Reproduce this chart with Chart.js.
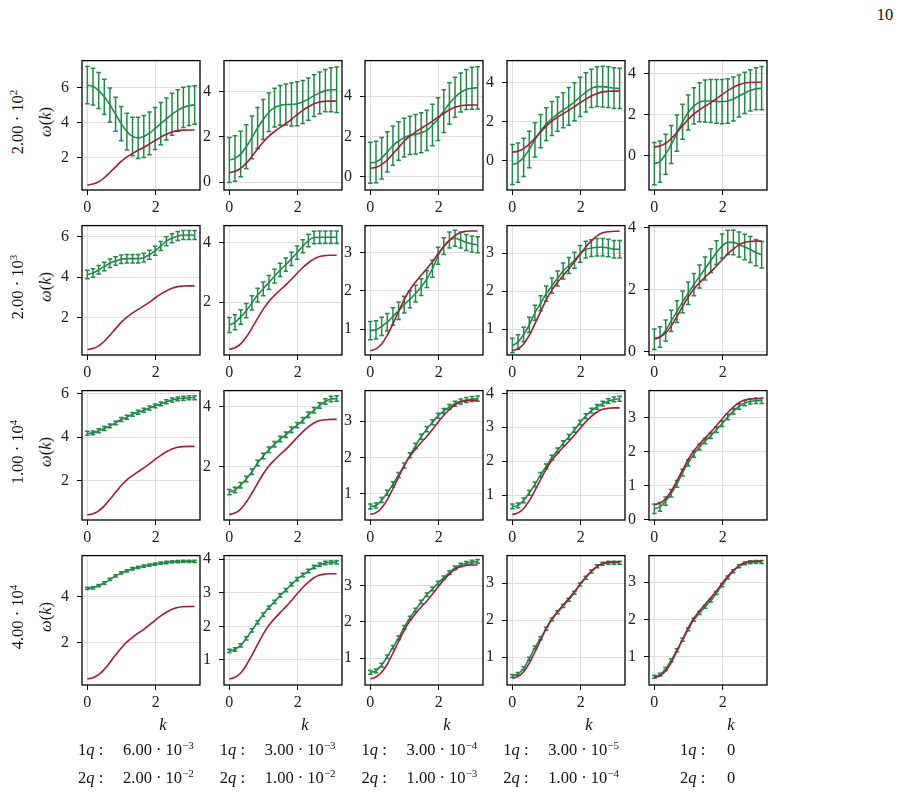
<!DOCTYPE html>
<html>
<head>
<meta charset="utf-8">
<script src="https://cdn.jsdelivr.net/npm/chart.js@4.4.1/dist/chart.umd.min.js"></script>
<style>
  body { margin: 0; background: #fff; }
  #fig { position: relative; width: 901px; height: 796px; overflow: hidden; font-family: "Liberation Serif", serif; color: #111; }
  canvas { position: absolute; }
  .t { position: absolute; white-space: nowrap; font-size: 16.5px; line-height: 1; }
  .rot { transform: translate(-50%, -50%) rotate(-90deg); }
  .ctr { transform: translate(-50%, -50%); }
  .lft { transform: translateY(-50%); }
  sup { font-size: 11px; vertical-align: 6px; line-height: 0; }
</style>
</head>
<body>
<div id="fig"></div>
<script>
// momentum grid and exact dispersion (red)
const kGrid = [0, 0.165, 0.331, 0.496, 0.661, 0.827, 0.992, 1.158, 1.323, 1.488, 1.653, 1.819, 1.984, 2.150, 2.315, 2.480, 2.646, 2.811, 2.976, 3.142];
const omegaTrue = [0.43, 0.48, 0.61, 0.84, 1.14, 1.46, 1.77, 2.03, 2.23, 2.41, 2.58, 2.77, 2.97, 3.16, 3.32, 3.45, 3.53, 3.56, 3.57, 3.57];

// row 1 : 2.00e2
const mu_r1_c1 = [6.13, 6.05, 5.82, 5.46, 5.0, 4.47, 3.93, 3.48, 3.2, 3.12, 3.2, 3.38, 3.65, 3.93, 4.2, 4.47, 4.68, 4.86, 4.95, 5.0];
const sd_r1_c1 = [1.07, 1.05, 1.03, 1.0, 0.97, 0.97, 0.98, 1.05, 1.1, 1.18, 1.2, 1.22, 1.2, 1.2, 1.2, 1.2, 1.18, 1.15, 1.12, 1.1];
const mu_r1_c2 = [0.98, 1.05, 1.24, 1.56, 1.97, 2.39, 2.76, 3.08, 3.28, 3.38, 3.42, 3.42, 3.45, 3.53, 3.66, 3.81, 3.93, 4.03, 4.07, 4.07];
const sd_r1_c2 = [0.99, 1.0, 1.0, 0.97, 0.94, 0.9, 0.88, 0.85, 0.85, 0.87, 0.9, 0.95, 0.97, 0.95, 0.93, 0.92, 0.92, 0.93, 0.97, 1.0];
const mu_r1_c3 = [0.7, 0.74, 0.93, 1.24, 1.55, 1.78, 1.95, 2.06, 2.11, 2.19, 2.31, 2.57, 2.87, 3.26, 3.64, 3.95, 4.19, 4.34, 4.4, 4.42];
const sd_r1_c3 = [1.02, 1.03, 1.03, 1.0, 0.97, 0.96, 0.96, 0.95, 0.98, 0.99, 1.0, 1.03, 1.06, 1.06, 1.03, 0.99, 0.97, 0.99, 1.04, 1.05];
const mu_r1_c4 = [-0.21, -0.11, 0.16, 0.57, 1.06, 1.51, 1.87, 2.16, 2.39, 2.59, 2.78, 3.02, 3.27, 3.51, 3.71, 3.8, 3.8, 3.77, 3.72, 3.71];
const sd_r1_c4 = [1.03, 1.01, 0.98, 0.94, 0.88, 0.86, 0.84, 0.87, 0.88, 0.9, 0.97, 0.98, 1.01, 1.01, 0.99, 1.02, 1.05, 1.05, 1.05, 1.03];
const mu_r1_c5 = [-0.38, -0.28, 0.08, 0.55, 1.1, 1.65, 2.1, 2.42, 2.6, 2.66, 2.66, 2.64, 2.63, 2.66, 2.76, 2.9, 3.05, 3.17, 3.25, 3.28];
const sd_r1_c5 = [1.03, 1.0, 0.97, 0.92, 0.88, 0.85, 0.85, 0.88, 0.95, 1.02, 1.04, 1.06, 1.07, 1.08, 1.07, 1.02, 1.0, 1.0, 1.02, 1.05];

// row 2 : 2.00e3
const mu_r2_c1 = [4.13, 4.2, 4.36, 4.52, 4.68, 4.79, 4.88, 4.91, 4.91, 4.91, 4.96, 5.1, 5.3, 5.53, 5.77, 5.92, 6.03, 6.08, 6.08, 6.08];
const sd_r2_c1 = [0.21, 0.21, 0.21, 0.21, 0.21, 0.21, 0.21, 0.21, 0.21, 0.21, 0.22, 0.22, 0.22, 0.22, 0.22, 0.22, 0.22, 0.22, 0.22, 0.22];
const mu_r2_c2 = [1.24, 1.33, 1.51, 1.72, 1.98, 2.24, 2.45, 2.66, 2.87, 3.08, 3.26, 3.45, 3.66, 3.87, 4.06, 4.16, 4.17, 4.17, 4.17, 4.17];
const sd_r2_c2 = [0.25, 0.25, 0.24, 0.24, 0.24, 0.23, 0.23, 0.23, 0.23, 0.22, 0.22, 0.22, 0.22, 0.22, 0.21, 0.21, 0.21, 0.21, 0.21, 0.21];
const mu_r2_c3 = [0.96, 0.98, 1.07, 1.18, 1.33, 1.48, 1.64, 1.78, 1.93, 2.1, 2.31, 2.58, 2.92, 3.17, 3.33, 3.38, 3.33, 3.27, 3.23, 3.21];
const sd_r2_c3 = [0.24, 0.24, 0.24, 0.23, 0.23, 0.23, 0.22, 0.22, 0.22, 0.22, 0.22, 0.22, 0.22, 0.22, 0.21, 0.21, 0.21, 0.21, 0.21, 0.21];
const mu_r2_c4 = [0.57, 0.66, 0.86, 1.11, 1.43, 1.68, 1.93, 2.14, 2.33, 2.53, 2.67, 2.81, 2.98, 3.09, 3.13, 3.15, 3.15, 3.13, 3.1, 3.1];
const sd_r2_c4 = [0.19, 0.19, 0.19, 0.2, 0.2, 0.2, 0.2, 0.2, 0.2, 0.21, 0.21, 0.21, 0.22, 0.22, 0.22, 0.23, 0.23, 0.23, 0.23, 0.23];
const mu_r2_c5 = [0.41, 0.48, 0.69, 1.0, 1.3, 1.61, 1.89, 2.17, 2.43, 2.69, 2.94, 3.2, 3.41, 3.53, 3.53, 3.46, 3.38, 3.3, 3.2, 3.13];
const sd_r2_c5 = [0.33, 0.33, 0.34, 0.34, 0.35, 0.35, 0.36, 0.36, 0.37, 0.37, 0.38, 0.38, 0.39, 0.39, 0.4, 0.4, 0.41, 0.42, 0.42, 0.43];

// row 3 : 1.00e4
const mu_r3_c1 = [4.17, 4.19, 4.29, 4.39, 4.51, 4.65, 4.8, 4.91, 5.04, 5.14, 5.23, 5.33, 5.43, 5.52, 5.62, 5.7, 5.75, 5.78, 5.8, 5.8];
const sd_r3_c1 = [0.09, 0.09, 0.09, 0.09, 0.09, 0.09, 0.09, 0.09, 0.09, 0.09, 0.09, 0.09, 0.09, 0.09, 0.09, 0.09, 0.09, 0.09, 0.09, 0.09];
const mu_r3_c2 = [1.17, 1.24, 1.4, 1.6, 1.84, 2.13, 2.36, 2.57, 2.75, 2.92, 3.06, 3.23, 3.38, 3.54, 3.72, 3.87, 4.03, 4.16, 4.24, 4.26];
const sd_r3_c2 = [0.09, 0.09, 0.09, 0.09, 0.09, 0.09, 0.09, 0.09, 0.09, 0.09, 0.09, 0.09, 0.09, 0.09, 0.09, 0.09, 0.09, 0.09, 0.09, 0.09];
const mu_r3_c3 = [0.65, 0.68, 0.83, 1.03, 1.26, 1.52, 1.78, 2.06, 2.32, 2.57, 2.78, 2.97, 3.15, 3.28, 3.39, 3.48, 3.54, 3.58, 3.61, 3.62];
const sd_r3_c3 = [0.07, 0.07, 0.07, 0.07, 0.07, 0.07, 0.07, 0.07, 0.07, 0.07, 0.07, 0.07, 0.07, 0.07, 0.07, 0.07, 0.07, 0.07, 0.07, 0.07];
const mu_r3_c4 = [0.67, 0.7, 0.85, 1.07, 1.32, 1.6, 1.85, 2.11, 2.32, 2.53, 2.72, 2.92, 3.14, 3.33, 3.49, 3.6, 3.7, 3.77, 3.82, 3.84];
const sd_r3_c4 = [0.07, 0.07, 0.07, 0.07, 0.07, 0.07, 0.07, 0.07, 0.07, 0.07, 0.07, 0.07, 0.07, 0.07, 0.07, 0.07, 0.07, 0.07, 0.07, 0.07];
const mu_r3_c5 = [0.31, 0.37, 0.54, 0.77, 1.05, 1.38, 1.67, 1.93, 2.14, 2.32, 2.47, 2.65, 2.83, 3.03, 3.2, 3.34, 3.44, 3.49, 3.51, 3.51];
const sd_r3_c5 = [0.14, 0.13, 0.12, 0.11, 0.1, 0.1, 0.09, 0.09, 0.09, 0.08, 0.08, 0.08, 0.08, 0.08, 0.08, 0.08, 0.08, 0.08, 0.08, 0.08];

// row 4 : 4.00e4
const mu_r4_c1 = [4.36, 4.38, 4.48, 4.59, 4.75, 4.9, 5.03, 5.12, 5.21, 5.27, 5.32, 5.37, 5.41, 5.45, 5.48, 5.51, 5.52, 5.53, 5.53, 5.53];
const sd_r4_c1 = [0.05, 0.05, 0.05, 0.05, 0.05, 0.05, 0.05, 0.05, 0.05, 0.05, 0.05, 0.05, 0.05, 0.05, 0.05, 0.05, 0.05, 0.05, 0.05, 0.05];
const mu_r4_c2 = [1.27, 1.31, 1.43, 1.64, 1.88, 2.12, 2.35, 2.56, 2.73, 2.92, 3.08, 3.25, 3.41, 3.53, 3.65, 3.77, 3.84, 3.89, 3.91, 3.91];
const sd_r4_c2 = [0.05, 0.05, 0.05, 0.05, 0.05, 0.05, 0.05, 0.05, 0.05, 0.05, 0.05, 0.05, 0.05, 0.05, 0.05, 0.05, 0.05, 0.05, 0.05, 0.05];
const mu_r4_c3 = [0.61, 0.65, 0.81, 1.04, 1.3, 1.56, 1.85, 2.11, 2.33, 2.55, 2.75, 2.91, 3.07, 3.22, 3.36, 3.49, 3.57, 3.62, 3.65, 3.67];
const sd_r4_c3 = [0.05, 0.05, 0.05, 0.05, 0.05, 0.05, 0.05, 0.05, 0.05, 0.05, 0.05, 0.05, 0.05, 0.05, 0.05, 0.05, 0.05, 0.05, 0.05, 0.05];
const mu_r4_c4 = [0.49, 0.55, 0.7, 0.96, 1.26, 1.51, 1.77, 2.02, 2.21, 2.38, 2.55, 2.74, 2.96, 3.14, 3.31, 3.45, 3.52, 3.55, 3.55, 3.55];
const sd_r4_c4 = [0.04, 0.04, 0.04, 0.04, 0.04, 0.04, 0.04, 0.04, 0.04, 0.04, 0.04, 0.04, 0.04, 0.04, 0.04, 0.04, 0.04, 0.04, 0.04, 0.04];
const mu_r4_c5 = [0.45, 0.51, 0.66, 0.9, 1.17, 1.45, 1.73, 1.99, 2.17, 2.34, 2.51, 2.71, 2.92, 3.13, 3.3, 3.43, 3.51, 3.54, 3.55, 3.55];
const sd_r4_c5 = [0.04, 0.04, 0.04, 0.04, 0.04, 0.04, 0.04, 0.04, 0.04, 0.04, 0.04, 0.04, 0.04, 0.04, 0.04, 0.04, 0.04, 0.04, 0.04, 0.04];

// axis limits and ticks
const xRange = [-0.157, 3.299];
const xTicks = [0, 2];
const yLim_r1 = [[0.14, 7.53], [-0.34, 5.35], [-0.65, 5.77], [-1.52, 5.14], [-1.66, 4.62]];
const yLim_r2 = [[0.16, 6.54], [0.24, 4.56], [0.32, 3.71], [0.32, 3.72], [-0.1, 4.07]];
const yLim_r3 = [[0.19, 6.13], [0.25, 4.52], [0.28, 3.84], [0.27, 4.08], [-0.02, 3.81]];
const yLim_r4 = [[0.16, 5.78], [0.25, 4.11], [0.26, 3.83], [0.25, 3.74], [0.23, 3.72]];
const yTicks_r1 = [[2, 4, 6], [0, 2, 4], [0, 2, 4], [0, 2, 4], [0, 2, 4]];
const yTicks_r2 = [[2, 4, 6], [2, 4], [1, 2, 3], [1, 2, 3], [0, 2, 4]];
const yTicks_r3 = [[2, 4, 6], [2, 4], [1, 2, 3], [1, 2, 3, 4], [0, 1, 2, 3]];
const yTicks_r4 = [[2, 4], [1, 2, 3, 4], [1, 2, 3], [1, 2, 3], [1, 2, 3]];

// texts
const rowLabels = ['2.00 · 10<sup>2</sup>', '2.00 · 10<sup>3</sup>', '1.00 · 10<sup>4</sup>', '4.00 · 10<sup>4</sup>'];
const oneQ = ['6.00 · 10<sup>−3</sup>', '3.00 · 10<sup>−3</sup>', '3.00 · 10<sup>−4</sup>', '3.00 · 10<sup>−5</sup>', '0'];
const twoQ = ['2.00 · 10<sup>−2</sup>', '1.00 · 10<sup>−2</sup>', '1.00 · 10<sup>−3</sup>', '1.00 · 10<sup>−4</sup>', '0'];

const GREEN = '#23894a';
const RED = '#a21d37';

const means = [
  [mu_r1_c1, mu_r1_c2, mu_r1_c3, mu_r1_c4, mu_r1_c5],
  [mu_r2_c1, mu_r2_c2, mu_r2_c3, mu_r2_c4, mu_r2_c5],
  [mu_r3_c1, mu_r3_c2, mu_r3_c3, mu_r3_c4, mu_r3_c5],
  [mu_r4_c1, mu_r4_c2, mu_r4_c3, mu_r4_c4, mu_r4_c5]];
const errs = [
  [sd_r1_c1, sd_r1_c2, sd_r1_c3, sd_r1_c4, sd_r1_c5],
  [sd_r2_c1, sd_r2_c2, sd_r2_c3, sd_r2_c4, sd_r2_c5],
  [sd_r3_c1, sd_r3_c2, sd_r3_c3, sd_r3_c4, sd_r3_c5],
  [sd_r4_c1, sd_r4_c2, sd_r4_c3, sd_r4_c4, sd_r4_c5]];
const lims = [yLim_r1, yLim_r2, yLim_r3, yLim_r4];
const yticks = [yTicks_r1, yTicks_r2, yTicks_r3, yTicks_r4];

// layout of the grid
const colLeft = [82, 224, 365, 507, 649];
const rowTop = [53, 218, 383, 548];
const PW = 118, PH = 137;
const YW = 36, XH = 26, PT = 10, PR = 8;

const fig = document.getElementById('fig');

function addText(html, x, y, cls) {
  const d = document.createElement('div');
  d.className = 't ' + cls;
  d.style.left = x + 'px';
  d.style.top = y + 'px';
  d.innerHTML = html;
  fig.appendChild(d);
}

function errPlugin(mu, sd) {
  return {
    id: 'errbars',
    beforeDatasetsDraw(chart) {
      const ctx = chart.ctx, x = chart.scales.x, y = chart.scales.y;
      ctx.save();
      ctx.strokeStyle = GREEN;
      ctx.lineWidth = 1.5;
      kGrid.forEach(function (k, i) {
        const px = x.getPixelForValue(k);
        const top = y.getPixelForValue(mu[i] + sd[i]);
        const bot = y.getPixelForValue(mu[i] - sd[i]);
        ctx.beginPath();
        ctx.moveTo(px, top); ctx.lineTo(px, bot);
        ctx.moveTo(px - 2.3, top); ctx.lineTo(px + 2.3, top);
        ctx.moveTo(px - 2.3, bot); ctx.lineTo(px + 2.3, bot);
        ctx.stroke();
      });
      ctx.restore();
    },
    afterDraw(chart) {
      const a = chart.chartArea, ctx = chart.ctx;
      ctx.save();
      ctx.strokeStyle = '#000';
      ctx.lineWidth = 1.3;
      ctx.strokeRect(a.left, a.top, a.right - a.left, a.bottom - a.top);
      ctx.restore();
    }
  };
}

const tickFont = { family: 'Liberation Serif', size: 16 };

for (let r = 0; r < 4; r++) {
  for (let c = 0; c < 5; c++) {
    const cv = document.createElement('canvas');
    const w = YW + PW + PR, h = PT + PH + XH;
    cv.width = w; cv.height = h;
    cv.style.left = (colLeft[c] - YW) + 'px';
    cv.style.top = (rowTop[r] - PT) + 'px';
    cv.style.width = w + 'px'; cv.style.height = h + 'px';
    fig.appendChild(cv);

    const mu = means[r][c], sd = errs[r][c];
    const yt = yticks[r][c];
    new Chart(cv, {
      type: 'line',
      data: {
        datasets: [
          { data: kGrid.map((k, i) => ({ x: k, y: omegaTrue[i] })), borderColor: RED, borderWidth: 1.6,
            pointRadius: 0, cubicInterpolationMode: 'monotone', order: 0 },
          { data: kGrid.map((k, i) => ({ x: k, y: mu[i] })), borderColor: GREEN, borderWidth: 1.6,
            pointRadius: 0, cubicInterpolationMode: 'monotone', order: 1 }
        ]
      },
      options: {
        responsive: false,
        animation: false,
        events: [],
        layout: { padding: { top: PT, right: PR, left: 0, bottom: 0 } },
        plugins: { legend: { display: false }, tooltip: { enabled: false } },
        scales: {
          x: {
            type: 'linear', min: xRange[0], max: xRange[1],
            afterBuildTicks: ax => { ax.ticks = xTicks.map(v => ({ value: v })); },
            afterFit: ax => { ax.height = XH; },
            border: { display: false },
            grid: { color: '#dedede', lineWidth: 1, tickColor: '#000', tickLength: 5, tickWidth: 1 },
            ticks: { autoSkip: false, maxRotation: 0, padding: 3, color: '#222', font: tickFont, callback: v => String(v) }
          },
          y: {
            type: 'linear', min: lims[r][c][0], max: lims[r][c][1],
            afterBuildTicks: ax => { ax.ticks = yt.map(v => ({ value: v })); },
            afterFit: ax => { ax.width = YW; },
            border: { display: false },
            grid: { color: '#dedede', lineWidth: 1, tickColor: '#000', tickLength: 5, tickWidth: 1 },
            ticks: { autoSkip: false, padding: 8, color: '#222', font: tickFont, callback: v => String(v) }
          }
        }
      },
      plugins: [errPlugin(mu, sd)]
    });
  }
  addText(rowLabels[r], 18, rowTop[r] + PH / 2, 'rot');
  addText('<i>ω</i>(<i>k</i>)', 46, rowTop[r] + PH / 2, 'rot');
}

const kLabelX = [163, 305, 447, 589, 731];
for (let c = 0; c < 5; c++) {
  addText('<i>k</i>', kLabelX[c], 725, 'ctr');
  const lx = c < 4 ? 78 + 141.75 * c : 680;
  const vx = c < 4 ? 123 + 141.75 * c : 727;
  addText('1<i>q</i> :', lx, 750, 'lft');
  addText(oneQ[c], vx, 750, 'lft');
  addText('2<i>q</i> :', lx, 778, 'lft');
  addText(twoQ[c], vx, 778, 'lft');
}
addText('10', 885, 15, 'ctr');
</script>
</body>
</html>
